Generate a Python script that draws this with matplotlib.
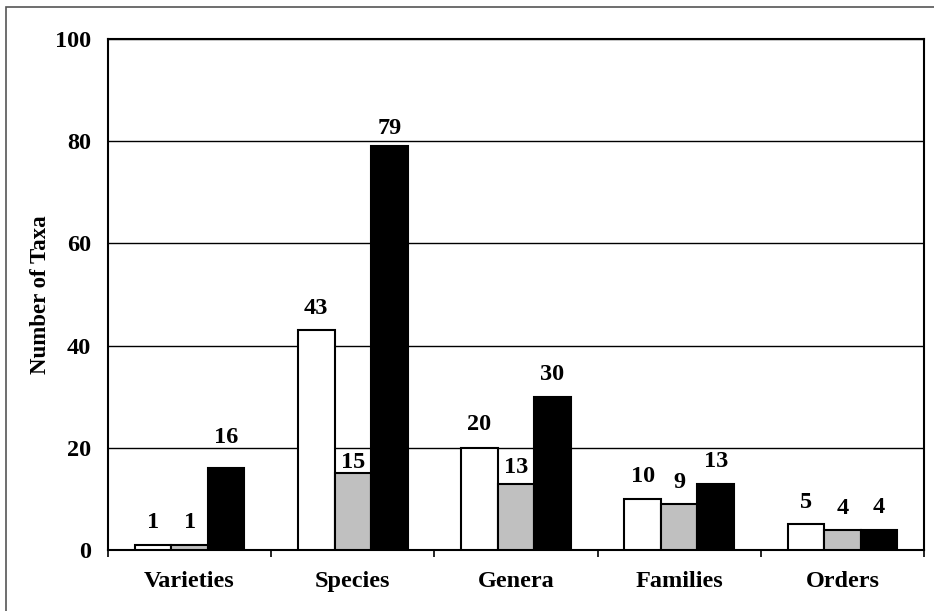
import matplotlib.pyplot as plt
from matplotlib.patches import Rectangle
import numpy as np

plt.rcParams['font.family'] = ['Liberation Serif', 'DejaVu Serif']
plt.rcParams['font.weight'] = 'bold'

categories = ['Varieties', 'Species', 'Genera', 'Families', 'Orders']
series_a = [1, 43, 20, 10, 5]     # white bars
series_b = [1, 15, 13, 9, 4]      # grey bars
series_c = [16, 79, 30, 13, 4]    # black bars

# how far (pixels) each value label sits above its bar
lift_a = [22, 22, 23, 22, 22]
lift_b = [22, 11, 16, 22, 21]
lift_c = [31, 18, 22, 22, 22]

fig = plt.figure(figsize=(9.34, 6.11), dpi=100)
ax = fig.add_axes([108/934, 1-550/611, 816/934, 511/611])

# frame round the whole chart
fig.patches.append(Rectangle((6/934, -0.05), 1.1, 1-7/611+0.05,
                             transform=fig.transFigure, fill=False,
                             edgecolor='#555555', linewidth=1.2))

x = np.arange(len(categories))
w = 0.224
colors = ['white', '#c0c0c0', 'black']
for k, (vals, lifts) in enumerate([(series_a, lift_a), (series_b, lift_b), (series_c, lift_c)]):
    pos = x + (k - 1) * w
    ax.bar(pos, vals, width=w, color=colors[k], edgecolor='black',
           linewidth=1.5, zorder=3)
    for p, v, l in zip(pos, vals, lifts):
        ax.annotate(str(v), (p, v), xytext=(0, l), textcoords='offset pixels',
                    ha='center', va='center', fontsize=17.5, fontweight='bold',
                    zorder=4)

ax.set_xlim(-0.5, len(categories) - 0.5)
ax.set_ylim(0, 100)
ax.set_yticks([0, 20, 40, 60, 80, 100])
ax.yaxis.grid(True, color='black', linewidth=1.0, zorder=0)
ax.set_axisbelow(True)
ax.tick_params(axis='y', length=0, pad=12, labelsize=17.5)

ax.set_xticks(x)
ax.set_xticklabels(categories, fontsize=17.5, fontweight='bold')
ax.set_xticks(np.arange(len(categories) + 1) - 0.5, minor=True)
ax.tick_params(axis='x', which='major', length=0, pad=15)
ax.tick_params(axis='x', which='minor', length=5, width=1.2, direction='out')

for s in ax.spines.values():
    s.set_color('black')
    s.set_linewidth(1.5)

ax.set_ylabel('Number of Taxa', fontsize=16.5, fontweight='bold', labelpad=3)

fig.savefig('out.png', dpi=100)
